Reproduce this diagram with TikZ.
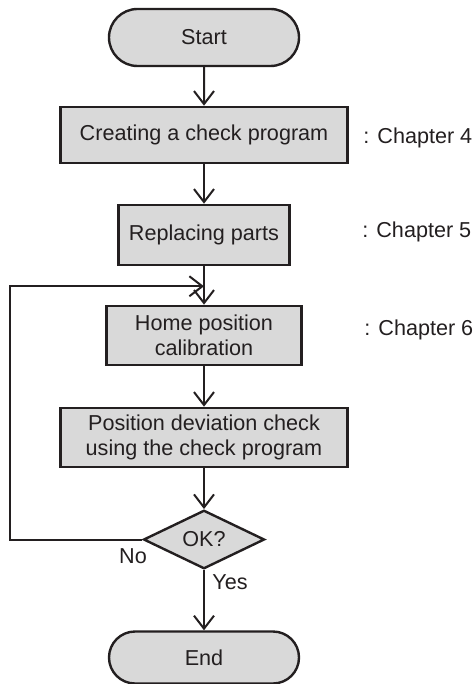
\documentclass[tikz,border=0pt]{standalone}
\usepackage{fontspec}
\setmainfont{Liberation Sans}
\usetikzlibrary{arrows.meta,shapes.geometric,shapes.misc,calc}

\definecolor{boxgray}{HTML}{D9D9D9}
\definecolor{inkblack}{HTML}{231F20}

\begin{document}
\begin{tikzpicture}[x=0.5pt,y=-0.5pt,color=inkblack,
  font=\fontsize{10.8}{12.5}\selectfont,
  terminal/.style={rounded rectangle,draw,fill=boxgray,line width=1.2pt,
    minimum width=95pt,minimum height=28.5pt,inner sep=0pt},
  process/.style={rectangle,draw,fill=boxgray,line width=1.3pt,
    minimum height=29.5pt,align=center,inner sep=0pt},
  decision/.style={diamond,draw,fill=boxgray,line width=1.2pt,
    minimum width=60.5pt,minimum height=27.5pt,inner sep=0pt},
  flow/.style={line width=1pt,-{Straight Barb[length=6.5pt,width=10pt,line width=1pt]}},
  chapter/.style={anchor=west,inner sep=0pt}]

\useasboundingbox (0,0) rectangle (474,684);

%====================================================
% Steps
%====================================================
\node[terminal] (start) at (204,37.5) {Start};
\node[process,minimum width=143.5pt,minimum height=28pt] (create) at (204,135)
  {Creating a check program};
\node[process,minimum width=85.5pt,minimum height=30pt] (replace) at (204,235)
  {Replacing parts};
\node[process,minimum width=97.5pt] (home) at (204,335.5)
  {Home position\\calibration};
\node[process,minimum width=143.5pt] (check) at (204,437.5)
  {Position deviation check\\using the check program};
\node[decision] (ok) at (204,539.5) {OK?};
\node[terminal,minimum height=26pt] (end) at (204,657.5) {End};

% Chapters
\node[chapter] (ch4) at (363,138) {: Chapter 4};
\node[chapter] (ch5) at (362,232) {: Chapter 5};
\node[chapter] (ch6) at (364,330) {: Chapter 6};

%====================================================
% Arrows
%====================================================
\draw[flow] (start) -- (create);
\draw[flow] (create) -- (replace);
\draw[flow] (replace) -- (home);
\draw[flow] (home) -- (check);
\draw[flow] (check) -- (ok);
\draw[flow] (ok) -- (end);

% Loop back
\coordinate (join) at ($(replace.south)!0.52!(home.north)$);
\draw[flow] (ok.west) -- ++(-132,0) |- (join);

\node (no) at (133,556) {No};
\node (yes) at (230,582) {Yes};

\end{tikzpicture}
\end{document}
